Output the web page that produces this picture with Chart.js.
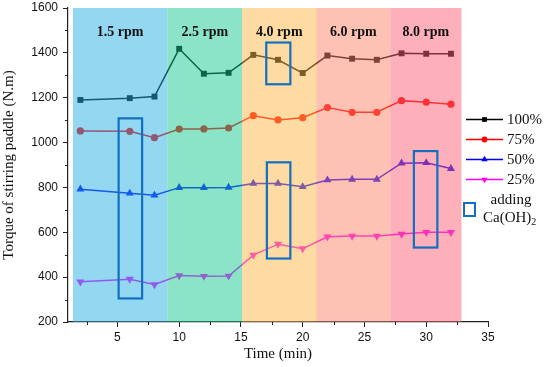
<!DOCTYPE html>
<html>
<head>
<meta charset="utf-8">
<script src="https://cdn.jsdelivr.net/npm/chart.js@4/dist/chart.umd.min.js"></script>
<style>
  html, body { margin: 0; padding: 0; background: #fff; }
  #wrap { width: 550px; height: 367px; position: relative; }
</style>
</head>
<body>
<div id="wrap"><canvas id="chart1"></canvas></div>
<script>
// time points (min)
const times = [2, 6, 8, 10, 12, 14, 16, 18, 20, 22, 24, 26, 28, 30, 32];
// torque of stirring paddle (N.m) per filling ratio
const torque100 = [1190, 1198, 1205, 1418, 1307, 1311, 1391, 1369, 1310, 1388, 1374, 1369, 1398, 1396, 1396];
const torque75 = [1052, 1050, 1022, 1060, 1061, 1065, 1120, 1101, 1111, 1156, 1135, 1135, 1187, 1180, 1171];
const torque50 = [792, 774, 765, 799, 799, 800, 818, 818, 803, 833, 836, 836, 908, 910, 884];
const torque25 = [379, 391, 367, 407, 404, 405, 498, 547, 527, 580, 583, 583, 592, 600, 600];
const seriesLabels = ['100%', '75%', '50%', '25%'];

// rotation speed stages (time ranges)
const stageLabels = ['1.5 rpm', '2.5 rpm', '4.0 rpm', '6.0 rpm', '8.0 rpm'];
const stageEdges = [1.4, 9.05, 15.1, 21.1, 27.1, 32.85];

// Ca(OH)2 addition boxes: time range and torque range
const boxTimes = [[5.1, 7.0], [17.05, 19.0], [17.1, 19.0], [29.0, 30.9]];
const boxTorque = [[305, 1108], [1260, 1446], [483, 912], [532, 962]];

const xTicks = [5, 10, 15, 20, 25, 30, 35];
const yTicks = [200, 400, 600, 800, 1000, 1200, 1400, 1600];

const lineColors = ['#000000', '#ff0000', '#0000ff', '#ff00ff'];
const pointStyles = ['rect', 'circle', 'triangle', 'triangle'];
const pointRot = [0, 0, 0, 180];
const pointSizes = [4.2, 3.6, 4.6, 4.6];
// band colours are laid over the data at half opacity
const stageColors = ['rgb(39,175,225)', 'rgb(25,201,145)', 'rgb(251,183,71)', 'rgb(251,133,103)', 'rgb(251,97,115)'];

const serif = "'Liberation Serif', 'Times New Roman', serif";
const sans = "'Liberation Sans', Arial, sans-serif";

const stagesPlugin = {
    id: 'stages',
    afterDatasetsDraw(chart) {
        const { ctx, chartArea, scales: { x, y } } = chart;
        ctx.save();
        // coloured stage bands
        ctx.globalAlpha = 0.5;
        for (let i = 0; i < stageLabels.length; i++) {
            const x0 = x.getPixelForValue(stageEdges[i]);
            const x1 = x.getPixelForValue(stageEdges[i + 1]);
            ctx.fillStyle = stageColors[i];
            ctx.fillRect(x0, chartArea.top, x1 - x0, chartArea.bottom - chartArea.top);
        }
        ctx.globalAlpha = 1;
        // stage labels
        ctx.fillStyle = '#111';
        ctx.font = 'bold 14px ' + serif;
        ctx.textAlign = 'center';
        ctx.textBaseline = 'middle';
        for (let i = 0; i < stageLabels.length; i++) {
            const cx = (x.getPixelForValue(stageEdges[i]) + x.getPixelForValue(stageEdges[i + 1])) / 2;
            ctx.fillText(stageLabels[i], cx, chartArea.top + 24);
        }
        // Ca(OH)2 boxes
        ctx.strokeStyle = '#1370c0';
        ctx.lineWidth = 2.2;
        boxTimes.forEach((bt, i) => {
            const x0 = x.getPixelForValue(bt[0]), x1 = x.getPixelForValue(bt[1]);
            const y0 = y.getPixelForValue(boxTorque[i][1]), y1 = y.getPixelForValue(boxTorque[i][0]);
            ctx.strokeRect(x0, y0, x1 - x0, y1 - y0);
        });
        // minor ticks
        ctx.strokeStyle = '#222';
        ctx.lineWidth = 1;
        ctx.beginPath();
        for (let v = 2.5; v < 35; v += 5) {
            const px = Math.round(x.getPixelForValue(v)) + 0.5;
            ctx.moveTo(px, chartArea.bottom);
            ctx.lineTo(px, chartArea.bottom + 3);
        }
        for (let v = 300; v < 1600; v += 200) {
            const py = Math.round(y.getPixelForValue(v)) + 0.5;
            ctx.moveTo(chartArea.left, py);
            ctx.lineTo(chartArea.left - 3, py);
        }
        ctx.stroke();
        ctx.restore();
    },
    afterDraw(chart) {
        const { ctx, chartArea } = chart;
        ctx.save();
        const lx0 = chartArea.right - 22, lx1 = chartArea.right + 15;
        let ly = 119.5;
        ctx.font = '15px ' + serif;
        ctx.textBaseline = 'middle';
        ctx.textAlign = 'left';
        chart.data.datasets.forEach((ds, i) => {
            ctx.strokeStyle = ds.borderColor;
            ctx.lineWidth = 1.5;
            ctx.beginPath();
            ctx.moveTo(lx0, ly);
            ctx.lineTo(lx1, ly);
            ctx.stroke();
            ctx.fillStyle = ds.borderColor;
            Chart.helpers.drawPoint(ctx, {
                pointStyle: ds.pointStyle, radius: ds.pointRadius * 0.8,
                rotation: ds.pointRotation, borderWidth: 0
            }, (lx0 + lx1) / 2, ly);
            ctx.fillStyle = '#111';
            ctx.fillText(ds.label, lx1 + 4, ly + 1);
            ly += 20;
        });
        // Ca(OH)2 legend entry
        ctx.strokeStyle = '#1370c0';
        ctx.lineWidth = 2;
        ctx.strokeRect(lx0 - 2, 203, 11, 13);
        ctx.fillStyle = '#111';
        ctx.textAlign = 'center';
        ctx.fillText('adding', lx1 + 8, 200);
        ctx.textAlign = 'left';
        const cx = chartArea.right - 5;
        ctx.fillText('Ca(OH)', cx, 218);
        const w = ctx.measureText('Ca(OH)').width;
        ctx.font = '10px ' + serif;
        ctx.fillText('2', cx + w, 222);
        ctx.restore();
    }
};

const datasets = [torque100, torque75, torque50, torque25].map((vals, i) => ({
    label: seriesLabels[i],
    data: times.map((t, j) => ({ x: t, y: vals[j] })),
    borderColor: lineColors[i],
    backgroundColor: lineColors[i],
    borderWidth: 1.5,
    pointStyle: pointStyles[i],
    pointRotation: pointRot[i],
    pointRadius: pointSizes[i],
    pointBorderWidth: 0,
    tension: 0
}));

const chart = new Chart(document.getElementById('chart1'), {
    type: 'line',
    data: { datasets: datasets },
    options: {
        responsive: true,
        maintainAspectRatio: false,
        animation: false,
        layout: { padding: { top: 8, right: 62, left: 0, bottom: 0 } },
        plugins: { legend: { display: false }, tooltip: { enabled: false } },
        scales: {
            x: {
                type: 'linear',
                min: 1, max: 35,
                afterBuildTicks: (scale) => { scale.ticks = xTicks.map(v => ({ value: v })); },
                afterFit: (scale) => { scale.height = 45; scale.paddingRight = 0; },
                border: { display: true, color: '#222', width: 1.2 },
                grid: { drawOnChartArea: false, tickLength: 5, color: '#222' },
                ticks: { color: '#111', font: { family: sans, size: 12 }, padding: 3, maxRotation: 0,
                         callback: (v) => xTicks.includes(v) ? String(v) : '' },
                title: { display: true, text: 'Time (min)', color: '#111', font: { family: serif, size: 15 }, padding: { top: 2 } }
            },
            y: {
                min: 200, max: 1600,
                afterBuildTicks: (scale) => { scale.ticks = yTicks.map(v => ({ value: v })); },
                afterFit: (scale) => { scale.width = 68; scale.paddingTop = 0; scale.paddingBottom = 0; },
                border: { display: true, color: '#222', width: 1.2 },
                grid: { drawOnChartArea: false, tickLength: 5, color: '#222' },
                ticks: { color: '#111', font: { family: sans, size: 12 }, padding: 5,
                         callback: (v) => String(v) },
                title: { display: true, text: 'Torque of stirring paddle (N.m)', color: '#111', font: { family: serif, size: 15 }, padding: { top: 0, bottom: 0 } }
            }
        }
    },
    plugins: [stagesPlugin]
});
</script>
</body>
</html>
